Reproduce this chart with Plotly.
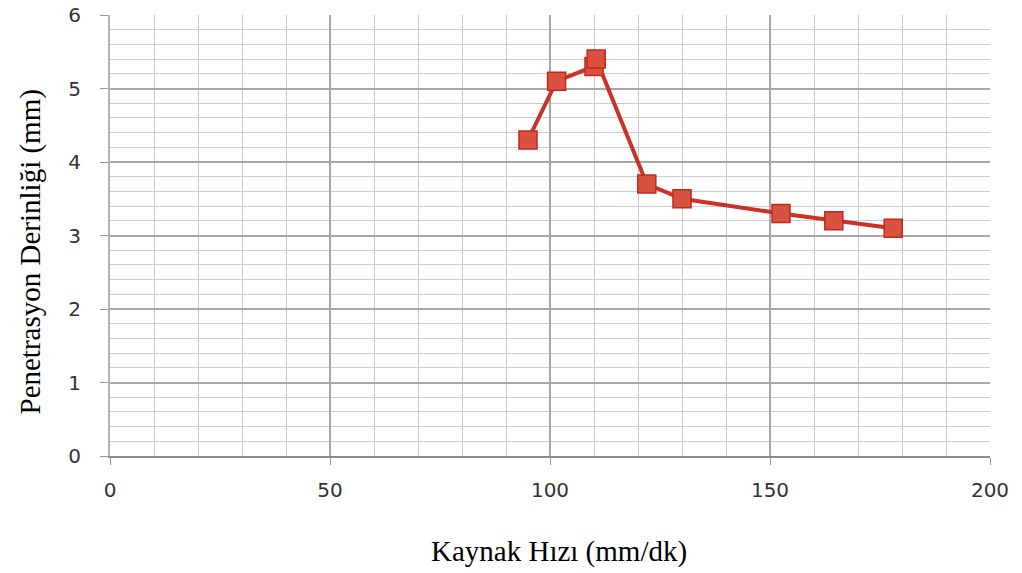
import plotly.graph_objects as go

# Welding speed (mm/dk) vs penetration depth (mm)
kaynak_hizi = [95, 101.5, 110, 110.5, 122, 130, 152.5, 164.5, 178]
penetrasyon = [4.3, 5.1, 5.3, 5.4, 3.7, 3.5, 3.3, 3.2, 3.1]

x_ticks = [0, 50, 100, 150, 200]
y_ticks = [0, 1, 2, 3, 4, 5, 6]

fig = go.Figure()
fig.add_trace(go.Scatter(
    x=kaynak_hizi,
    y=penetrasyon,
    mode="lines+markers",
    line=dict(color="#cc3128", width=4),
    marker=dict(symbol="square", size=18, color="#d9513f",
                line=dict(color="#c0291f", width=1.5)),
    showlegend=False,
))

tick_font = dict(family="DejaVu Sans", size=20, color="#333333")
title_font = dict(family="Liberation Serif", size=29, color="#000000")

fig.update_xaxes(
    range=[0, 200],
    tickvals=x_ticks,
    ticks="outside", ticklen=7, tickcolor="#999999",
    ticklabelstandoff=8,
    showline=True, linecolor="#8c8c8c", linewidth=2,
    showgrid=True, gridcolor="#a8a8a8", gridwidth=1.5,
    minor=dict(dtick=10, showgrid=True, gridcolor="#c8c8c8", gridwidth=1),
    tickfont=tick_font,
    zeroline=False,
    automargin=False,
)
fig.update_yaxes(
    range=[0, 6],
    tickvals=y_ticks,
    ticks="outside", ticklen=8, tickcolor="#999999",
    ticklabelstandoff=15,
    showline=True, linecolor="#b4b4b4", linewidth=2,
    showgrid=True, gridcolor="#a8a8a8", gridwidth=1.5,
    minor=dict(dtick=0.2, showgrid=True, gridcolor="#cccccc", gridwidth=1),
    tickfont=tick_font,
    zeroline=False,
    automargin=False,
)

# Axis titles
fig.add_annotation(
    text="Kaynak Hızı (mm/dk)", font=title_font, showarrow=False,
    xref="paper", yref="paper", x=0.5, y=0, xshift=9, yshift=-95,
    xanchor="center", yanchor="middle",
)
fig.add_annotation(
    text="Penetrasyon Derinliği (mm)", font=title_font, showarrow=False,
    textangle=-90,
    xref="paper", yref="paper", x=0, y=0.5, xshift=-80, yshift=-17,
    xanchor="center", yanchor="middle",
)

fig.update_layout(
    width=1022, height=573,
    margin=dict(l=110, r=32, t=15, b=117),
    plot_bgcolor="white",
    paper_bgcolor="white",
)

fig.write_html("out.html")
